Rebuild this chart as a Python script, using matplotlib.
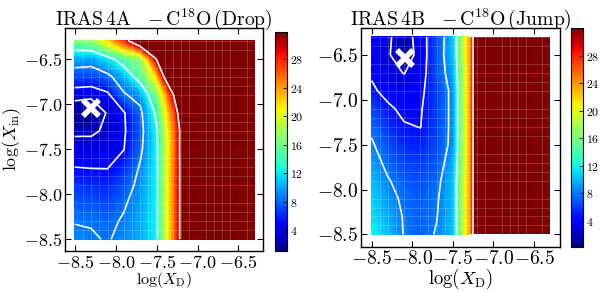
import numpy as np
import matplotlib
matplotlib.use("Agg")
import matplotlib.pyplot as plt
from matplotlib.ticker import FuncFormatter, MultipleLocator, FixedLocator
from matplotlib.colors import Normalize
from matplotlib.cm import ScalarMappable

plt.rcParams['mathtext.fontset'] = 'cm'
plt.rcParams['font.family'] = ['DejaVu Serif']

# grid of log(X_D) (columns) and log(X_in) (rows)
log_xd = [-8.5, -8.3, -8.1, -7.9, -7.7, -7.5, -7.3, -7.1, -6.9, -6.7, -6.5, -6.3]
log_xin = [-8.5, -8.3, -8.1, -7.9, -7.7, -7.5, -7.3, -7.1, -6.9, -6.7, -6.5, -6.3]

# IRAS 4A - C18O (Drop): chi2, rows = log_xin, cols = log_xd
chi2_4a = [
    [9.0, 8.8, 8.3, 9.2, 10.2, 12.4, 24.5, 38, 60, 80, 100, 120],
    [8.4, 8.3, 7.9, 8.8, 10.0, 12.4, 24.5, 38, 60, 80, 100, 120],
    [7.6, 7.4, 7.0, 8.2, 9.7, 12.4, 24.5, 38, 60, 80, 100, 120],
    [6.4, 6.2, 5.9, 7.2, 9.3, 12.4, 24.5, 38, 60, 80, 100, 120],
    [5.0, 4.9, 4.9, 6.0, 8.8, 12.4, 24.5, 38, 60, 80, 100, 120],
    [3.9, 3.7, 3.9, 4.95, 7.9, 12.4, 24.0, 39, 60, 80, 100, 120],
    [2.6, 2.7, 3.3, 4.7, 7.5, 12.6, 24.5, 38, 60, 80, 100, 120],
    [1.6, 1.3, 3.2, 4.8, 7.8, 13.8, 26.0, 40, 62, 82, 100, 120],
    [3.7, 3.5, 4.5, 8.2, 9.6, 16.4, 29.5, 50, 70, 85, 100, 120],
    [7.0, 6.8, 7.8, 10.3, 14.8, 22.0, 40.0, 60, 80, 90, 105, 120],
    [10.0, 9.8, 11.8, 15.0, 17.0, 30.5, 55.0, 70, 90, 100, 110, 125],
    [16.5, 17.0, 22.0, 28.0, 36.0, 45.0, 70.0, 85, 100, 110, 120, 130],
]
levels_4a = [3.0, 5.0, 8.5, 13.0, 30.0]
best_4a = (-8.3, -7.05)
vrange_4a = (1.1, 31.8)

# IRAS 4B - C18O (Jump)
chi2_4b = [
    [12.0, 10.0, 7.85, 7.0, 8.2, 10.0, 23, 51, 70, 90, 110, 130],
    [11.3, 9.6, 7.8, 7.1, 7.9, 10.0, 23, 51, 70, 90, 110, 130],
    [10.8, 8.9, 7.5, 7.0, 7.7, 10.0, 23, 51, 70, 90, 110, 130],
    [10.0, 8.2, 7.0, 6.6, 7.3, 10.0, 23, 51, 70, 90, 110, 130],
    [9.2, 7.3, 6.2, 5.9, 6.8, 9.3, 23, 51, 70, 90, 110, 130],
    [8.3, 6.6, 5.4, 5.2, 6.3, 8.7, 23, 51, 70, 90, 110, 130],
    [7.5, 5.6, 4.7, 4.45, 6.0, 8.7, 23, 51, 70, 90, 110, 130],
    [6.3, 4.9, 4.0, 4.3, 6.0, 8.7, 23, 51, 70, 90, 110, 130],
    [4.9, 3.8, 3.2, 4.0, 6.0, 8.7, 23, 51, 70, 90, 110, 130],
    [4.2, 3.0, 2.45, 3.4, 6.5, 9.3, 23, 51, 70, 90, 110, 130],
    [3.9, 2.7, 1.4, 3.2, 6.45, 10.0, 23, 51, 70, 90, 110, 130],
    [3.8, 2.8, 1.5, 3.4, 6.2, 10.0, 23, 51, 70, 90, 110, 130],
]
levels_4b = [2.5, 4.5, 8.0, 13.0, 30.0]
best_4b = (-8.09, -6.53)
vrange_4b = (0.2, 32.0)

ticks = [-8.5, -8.0, -7.5, -7.0, -6.5]
cbar_ticks = [4, 8, 12, 16, 20, 24, 28]

fig = plt.figure(figsize=(6.0, 2.92), dpi=100)

fmt = FuncFormatter(lambda v, p: r'$%.1f$' % v)
cfmt = FuncFormatter(lambda v, p: r'$%d$' % v)


def panel(ax_rect, cax_rect, data, levels, best, vr, title, xlim, ylim,
          tick_size, xlabel_size, xlabel_y, ylabel):
    ax = fig.add_axes(ax_rect)
    cax = fig.add_axes(cax_rect)
    X, Y = np.meshgrid(log_xd, log_xin)
    Z = np.array(data)
    fl = np.linspace(vr[0], vr[1], 120)
    ax.contourf(X, Y, Z, levels=fl, cmap='jet', extend='both',
                antialiased=False)
    ax.contour(X, Y, Z, levels=levels, colors='white', linewidths=1.2)
    ax.plot([best[0]], [best[1]], marker='x', color='white', ms=12, mew=4,
            linestyle='none', zorder=5)
    ax.set_xlim(*xlim)
    ax.set_ylim(*ylim)
    ax.xaxis.set_major_locator(FixedLocator(ticks))
    ax.yaxis.set_major_locator(FixedLocator(ticks))
    ax.xaxis.set_minor_locator(MultipleLocator(0.1))
    ax.yaxis.set_minor_locator(MultipleLocator(0.1))
    ax.grid(which='minor', color='white', alpha=0.25, lw=0.5)
    ax.xaxis.set_major_formatter(fmt)
    ax.yaxis.set_major_formatter(fmt)
    ax.tick_params(which='major', direction='in', top=True, right=True,
                   length=4, width=0.8, labelsize=tick_size, pad=2)
    ax.tick_params(which='minor', length=0)
    ax.set_title(title, fontsize=14.2, pad=2)
    ax.set_xlabel(r'$\log(X_{\mathrm{D}})$', fontsize=xlabel_size)
    ax.xaxis.set_label_coords(0.5, xlabel_y)
    if ylabel:
        ax.set_ylabel(ylabel, fontsize=13)
        ax.yaxis.set_label_coords(-0.21, 0.5)
    for s in ax.spines.values():
        s.set_linewidth(1.0)
    sm = ScalarMappable(norm=Normalize(vr[0], vr[1]), cmap='jet')
    cb = fig.colorbar(sm, cax=cax, ticks=cbar_ticks)
    cb.ax.yaxis.set_major_formatter(cfmt)
    cb.ax.tick_params(labelsize=8.5, direction='in', length=3, width=0.6,
                      pad=2)
    cb.outline.set_linewidth(0.8)
    return ax


panel([65 / 600, 41 / 292, 198 / 600, 223 / 292],
      [275 / 600, 41 / 292, 12 / 600, 219 / 292],
      chi2_4a, levels_4a, best_4a, vrange_4a,
      r'$\mathrm{IRAS\,4A}\ \ \ {-}\,\mathrm{C^{18}O\,(Drop)}$',
      (-8.62, -6.2), (-8.63, -6.16), 13, 11.5, -0.087,
      r'$\log(X_{\mathrm{in}})$')

panel([361 / 600, 45 / 292, 199 / 600, 219 / 292],
      [571 / 600, 45 / 292, 12 / 600, 219 / 292],
      chi2_4b, levels_4b, best_4b, vrange_4b,
      r'$\mathrm{IRAS\,4B}\ \ \ {-}\,\mathrm{C^{18}O\,(Jump)}$',
      (-8.63, -6.18), (-8.64, -6.2), 14, 13.5, -0.09, None)

fig.savefig('out.png', dpi=100)
